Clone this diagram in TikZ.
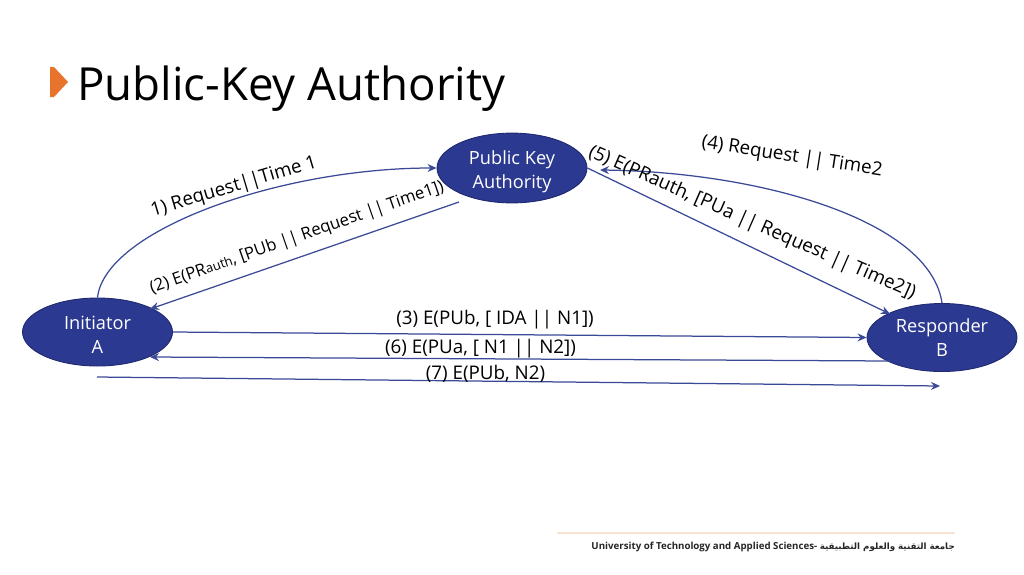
\documentclass[tikz,border=0pt]{standalone}
\usepackage{fontspec}
\setmainfont{Open Sans}
\newfontfamily\arabicfont[Script=Arabic]{DejaVu Sans}
\TeXXeTstate=1
\usetikzlibrary{arrows.meta,shapes.geometric}
\definecolor{navy}{HTML}{2B3990}
\definecolor{edge}{HTML}{1F2A70}
\definecolor{lineblue}{HTML}{3A4A96}
\definecolor{marker}{HTML}{E8732C}
\definecolor{rulepeach}{HTML}{FBE3D2}
\tikzset{
  party/.style={ellipse,draw=edge,fill=navy,line width=.9pt,minimum width=150pt,minimum height=68pt,inner sep=0pt,text=white,align=center,font=\fontsize{18.2}{24}\selectfont},
  link/.style={draw=lineblue,line width=1.25pt,-{Stealth[length=9pt,width=8pt]}},
  lbl/.style={inner sep=0pt,text=black,font=\fontsize{18.8}{22}\selectfont},
}
\begin{document}
\begin{tikzpicture}[x=1pt,y=-1pt]
\useasboundingbox (0,0) rectangle (1024,574);
\node[inner sep=0pt,anchor=west,font=\fontsize{45.6}{50}\selectfont] (title) at (77,88.5) {Public-Key Authority};
\fill[marker] (50,67) -- (54,67) -- (68,82) -- (54,97) -- (50,97) -- cycle;
\node[party] (pka) at (512,168) {\rule{0pt}{21pt}Public Key\\Authority};
\node[party] (ini) at (97.5,332) {\rule{0pt}{19pt}Initiator\\A};
\node[party] (res) at (942,337.5) {Responder\\B};
\coordinate (s2) at (459,202);
\coordinate (e2) at (150,309);
\coordinate (e4) at (600,170);
\coordinate (e5) at (890,314);
\coordinate (s6) at (890,361);
\coordinate (e6) at (150,357);
\coordinate (s7) at (97,377);
\coordinate (e7) at (940,386);
\draw[link] (ini.north) .. controls (105,230) and (280,168) .. (pka.west);
\draw[link] (s2) -- (e2);
\draw[link] (res.north) .. controls (930,220) and (760,172) .. (e4);
\draw[link] (pka.east) -- (e5);
\draw[link] (ini.east) -- (res.west);
\draw[link] (s6) -- (e6);
\draw[link] (s7) -- (e7);
\node[lbl,rotate=16.5] (l1) at (234,187) {1) Request||Time 1};
\node[lbl,rotate=19.2,font=\fontsize{16.8}{20}\selectfont] (l2) at (297,238) {(2) E(PR{\fontsize{13}{14}\selectfont auth}, [PUb || Request || Time1])};
\node[lbl] (l3) at (495,319.5) {(3) E(PUb, [ IDA || N1])};
\node[lbl,rotate=-8.8] (l4) at (792,157) {(4) Request || Time2};
\node[lbl,rotate=-23.7] (l5) at (752,223) {(5) E(PRauth, [PUa || Request || Time2])};
\node[lbl] (l6) at (480.5,349) {(6) E(PUa, [ N1 || N2])};
\node[lbl] (l7) at (485.5,373.5) {(7) E(PUb, N2)};
\draw[draw=rulepeach,line width=1.2pt] (557,533) -- (955,533);
\node[inner sep=0pt,anchor=east,font=\bfseries\fontsize{9.7}{11}\selectfont,text=black!85] (foot) at (955,546.5) {University of Technology and Applied Sciences- {\arabicfont\fontsize{8.7}{11}\selectfont\beginR جامعة التقنية والعلوم التطبيقية\endR}};
\end{tikzpicture}
\end{document}
